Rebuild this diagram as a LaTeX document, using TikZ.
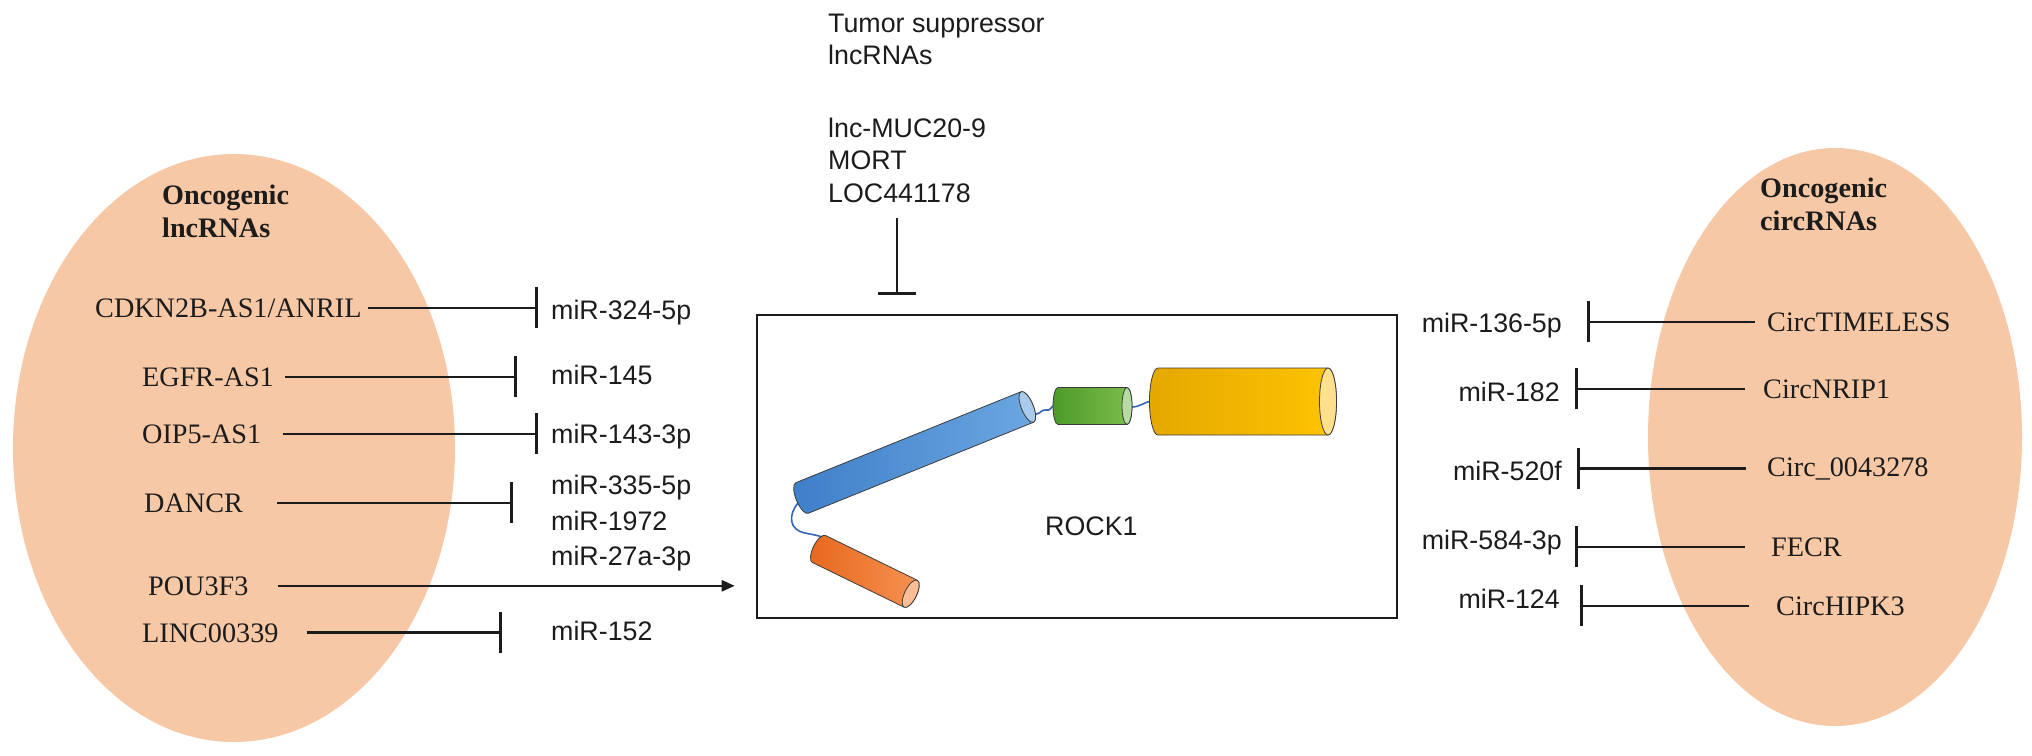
\documentclass[tikz,border=0pt]{standalone}
\usepackage{fontspec}
\setmainfont{Liberation Serif}
\newfontfamily\sansf{Liberation Sans}
\usetikzlibrary{arrows.meta,shapes.geometric}
\definecolor{peach}{HTML}{F6C8A6}
\definecolor{inkc}{HTML}{1C1C1C}
\definecolor{cylline}{HTML}{3C3C3C}
\definecolor{linker}{HTML}{3563B5}
\definecolor{blueL}{HTML}{3F7FC9}
\definecolor{blueR}{HTML}{6CA7E1}
\definecolor{blueC}{HTML}{A8CAEC}
\definecolor{greenL}{HTML}{4C9A2A}
\definecolor{greenR}{HTML}{7DBE4C}
\definecolor{greenC}{HTML}{B6DAA2}
\definecolor{yelL}{HTML}{E4A800}
\definecolor{yelM}{HTML}{FFC400}
\definecolor{yelR}{HTML}{FFD248}
\definecolor{yelC}{HTML}{FFE08C}
\definecolor{orL}{HTML}{E8681E}
\definecolor{orR}{HTML}{F59252}
\definecolor{orC}{HTML}{F9BE96}
% #1 x, #2 y, #3 angle, #4 length, #5 radius, #6 end x-radius, #7 left colour, #8 right colour, #9 cap colour
\newcommand\mycylinder[9]{%
\begin{scope}[shift={(#1,#2)}, rotate=#3]
  \path[draw=cylline, line width=0.8pt, left color=#7, right color=#8]
    (0,-#5) arc[start angle=270, end angle=90, x radius=#6, y radius=#5]
    -- (#4,#5) arc[start angle=90, end angle=-90, x radius=#6, y radius=#5] -- cycle;
  \path[draw=cylline, line width=0.8pt, fill=#9] (#4,0) ellipse[x radius=#6, y radius=#5];
\end{scope}}
\begin{document}
\begin{tikzpicture}[x=1pt,y=-1pt,
  serif/.style={font=\fontsize{28.2}{33}\selectfont, inner sep=0pt, text=inkc},
  serifb/.style={font=\fontsize{28.2}{33}\selectfont\bfseries, inner sep=0pt, text=inkc},
  sans/.style={font=\sansf\fontsize{26.8}{33}\selectfont, inner sep=0pt, text=inkc},
  region/.style={ellipse, fill=peach, inner sep=0pt},
  link/.style={line width=2.6pt, draw=inkc},
  inh/.style={link, -{Bar[width=41pt]}},
  act/.style={link, -{Triangle[length=13pt,width=11pt]}},
  linkerline/.style={draw=linker, line width=1.6pt},
]
\useasboundingbox (0,0) rectangle (2032,755);

% regions
\node[region, minimum width=442pt, minimum height=588pt] (lncell) at (234,448) {};
\node[region, minimum width=374pt, minimum height=578pt] (circell) at (1835,437) {};

% ROCK1 box
\node[draw=inkc, line width=2.6pt, minimum width=640pt, minimum height=303pt, inner sep=0pt] (rockbox) at (1077,466.5) {};
\node[sans, anchor=base west] (rock) at (1045,535) {ROCK1};

% protein cylinders
\draw[linkerline] (798,503) .. controls (788,515) and (789,530) .. (805,533) .. controls (814,535) and (818,535) .. (824,538);
\draw[linkerline] (1032,413) .. controls (1038,418) and (1042,408) .. (1046,410) .. controls (1050,412) and (1052,405) .. (1056,404);
\draw[linkerline] (1132,407) .. controls (1140,407) and (1144,402) .. (1152,401);
\mycylinder{819}{549}{-26}{102}{15}{6}{orL}{orR}{orC}
\mycylinder{802}{498}{22}{243}{16.5}{6}{blueL}{blueR}{blueC}
\mycylinder{1058}{406}{0}{69}{18.5}{5}{greenL}{greenR}{greenC}
\mycylinder{1158}{401.5}{0}{170}{33.5}{8.5}{yelL}{yelM}{yelC}
\begin{scope}
  \clip (1150,360) rectangle (1320,440);
\end{scope}

% tumor suppressor lncRNAs
\node[sans, anchor=base west] (tshead1) at (828,32) {Tumor suppressor};
\node[sans, anchor=base west] (tshead2) at (828,64.5) {lncRNAs};
\node[sans, anchor=base west] (muc) at (828,137) {lnc-MUC20-9};
\node[sans, anchor=base west] (mort) at (828,169.5) {MORT};
\node[sans, anchor=base west] (loc) at (828,202) {LOC441178};
\coordinate (tsup) at (897,295);
\draw[link, -{Bar[width=38pt]}] ([yshift=-16pt]loc.south -| tsup) -- (tsup);

% oncogenic lncRNAs
\node[serifb, anchor=base west] (lnchead1) at (162,204) {Oncogenic};
\node[serifb, anchor=base west] (lnchead2) at (162,237) {lncRNAs};
\node[serif, anchor=base west] (cdkn) at (95,317) {CDKN2B-AS1/ANRIL};
\node[serif, anchor=base west] (egfr) at (142,386) {EGFR-AS1};
\node[serif, anchor=base west] (oip) at (142,443) {OIP5-AS1};
\node[serif, anchor=base west] (dancr) at (144,512) {DANCR};
\node[serif, anchor=base west] (pou) at (148,595) {POU3F3};
\node[serif, anchor=base west] (linc) at (142,642) {LINC00339};

\node[sans, anchor=base west] (m324) at (551,319) {miR-324-5p};
\node[sans, anchor=base west] (m145) at (551,384) {miR-145};
\node[sans, anchor=base west] (m143) at (551,443) {miR-143-3p};
\node[sans, anchor=base west] (m335) at (551,494) {miR-335-5p};
\node[sans, anchor=base west] (m1972) at (551,530) {miR-1972};
\node[sans, anchor=base west] (m27a) at (551,565) {miR-27a-3p};
\node[sans, anchor=base west] (m152) at (551,640) {miR-152};

\coordinate (tcdkn) at (538,309);
\coordinate (tegfr) at (517,377);
\coordinate (toip) at (538,434);
\coordinate (tdancr) at (513,502);
\coordinate (tlinc) at (502,632);
\draw[inh] ([xshift=6pt]cdkn.east) -- (cdkn.east -| tcdkn);
\draw[inh] ([xshift=11pt]egfr.east) -- (egfr.east -| tegfr);
\draw[inh] ([xshift=22pt]oip.east) -- (oip.east -| toip);
\draw[inh] ([xshift=34pt]dancr.east) -- (dancr.east -| tdancr);
\draw[act] ([xshift=29pt]pou.east) -- ([xshift=-21pt]pou.east -| rockbox.west);
\draw[inh] ([xshift=28pt]linc.east) -- (linc.east -| tlinc);

% oncogenic circRNAs
\node[serifb, anchor=base west] (circhead1) at (1760,197) {Oncogenic};
\node[serifb, anchor=base west] (circhead2) at (1760,230) {circRNAs};
\node[serif, anchor=base west] (ctim) at (1767,331) {CircTIMELESS};
\node[serif, anchor=base west] (cnrip) at (1763,398) {CircNRIP1};
\node[serif, anchor=base west] (c004) at (1767,476) {Circ\_0043278};
\node[serif, anchor=base west] (fecr) at (1771,556) {FECR};
\node[serif, anchor=base west] (chipk) at (1776,615) {CircHIPK3};

\node[sans, anchor=base east] (m136) at (1562,332) {miR-136-5p};
\node[sans, anchor=base east] (m182) at (1560,401) {miR-182};
\node[sans, anchor=base east] (m520) at (1562,480) {miR-520f};
\node[sans, anchor=base east] (m584) at (1562,549) {miR-584-3p};
\node[sans, anchor=base east] (m124) at (1560,608) {miR-124};

\coordinate (tctim) at (1587,322);
\coordinate (tcnrip) at (1575,390);
\coordinate (tc004) at (1577,468);
\coordinate (tfecr) at (1575,546);
\coordinate (tchipk) at (1580,605);
\draw[inh] ([xshift=-12pt]ctim.west) -- (ctim.west -| tctim);
\draw[inh] ([xshift=-18pt]cnrip.west) -- (cnrip.west -| tcnrip);
\draw[inh] ([xshift=-21pt]c004.west) -- (c004.west -| tc004);
\draw[inh] ([xshift=-26pt]fecr.west) -- (fecr.west -| tfecr);
\draw[inh] ([xshift=-27pt]chipk.west) -- (chipk.west -| tchipk);
\end{tikzpicture}
\end{document}
